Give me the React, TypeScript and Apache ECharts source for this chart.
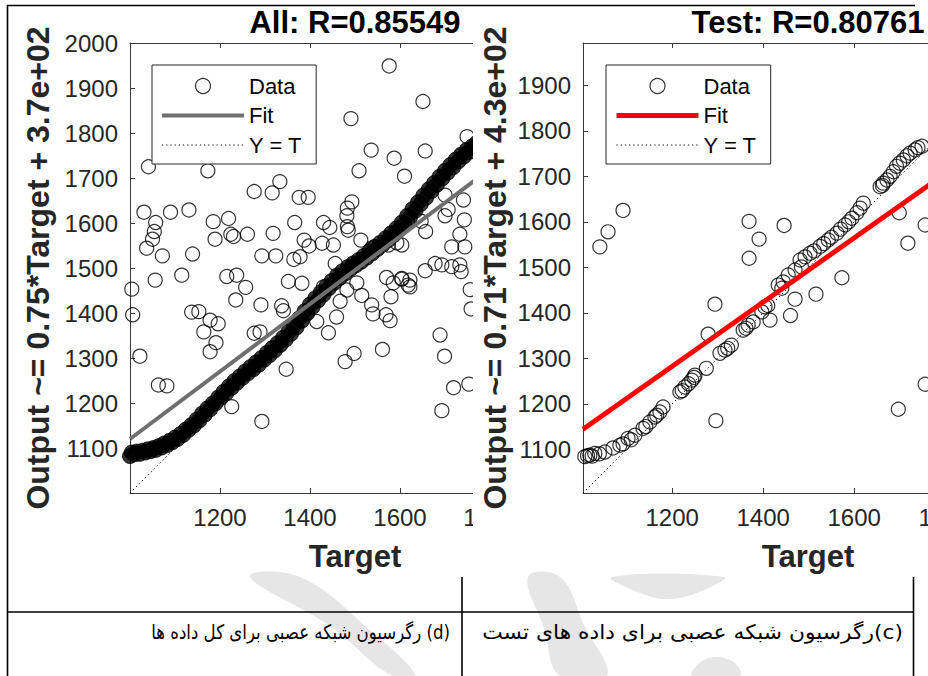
import React, { useEffect, useRef } from "react";
import * as echarts from "echarts";

const FONT = '"Liberation Sans", Arial, Helvetica, sans-serif';
const AXIS_COLOR = "#3a3a3a";
const TEXT_COLOR = "#262626";

// ---------- texts ----------
const allTitle = "All: R=0.85549";
const testTitle = "Test: R=0.80761";
const allYLabel = "Output ~= 0.75*Target + 3.7e+02";
const testYLabel = "Output ~= 0.71*Target + 4.3e+02";
const xLabel = "Target";
const legendNames = ["Data", "Fit", "Y = T"];
// captions (logical order arranged so "(d)" / "(c)" sit at the right end)
const captionAll = "رگرسیون شبکه عصبی برای کل داده ها (d)";
const captionTest = "رگرسیون شبکه عصبی برای داده های تست(c)";

// ---------- axes ----------
const allRange = [1000, 2000];
const testRange = [1004, 1993];
const allXTicks = [1200, 1400, 1600, 1800];
const allYTicks = [1100, 1200, 1300, 1400, 1500, 1600, 1700, 1800, 1900, 2000];
const testXTicks = [1200, 1400, 1600, 1800];
const testYTicks = [1100, 1200, 1300, 1400, 1500, 1600, 1700, 1800, 1900];

// ---------- fit lines (end points) ----------
const allFit = [[1000, 1120], [2000, 1870]];
const testFit = [[1004, 1144], [1993, 1842]];
const allIdentity = [[1000, 1000], [2000, 2000]];
const testIdentity = [[1004, 1004], [1993, 1993]];

// ---------- All: scattered data ----------
const allScatter = [
  [1576, 1949], [1651, 1870], [1491, 1832], [1749, 1792], [1041, 1725], [1173, 1716], [1536, 1762],
  [1587, 1744], [1656, 1760], [1509, 1716], [1610, 1704], [1276, 1670], [1316, 1667], [1333, 1692],
  [1376, 1657], [1396, 1657], [1031, 1624], [1090, 1624], [1131, 1629], [1057, 1601], [1054, 1581],
  [1050, 1564], [1037, 1544], [1072, 1527], [1139, 1531], [1185, 1603], [1219, 1610], [1189, 1564],
  [1224, 1575], [1230, 1570], [1261, 1575], [1318, 1577], [1366, 1601], [1387, 1562], [1398, 1549],
  [1293, 1527], [1324, 1527], [1364, 1519], [1378, 1525], [1430, 1601], [1444, 1590], [1427, 1555],
  [1452, 1551], [1483, 1633], [1482, 1616], [1493, 1647], [1483, 1592], [1485, 1584], [1513, 1562],
  [1537, 1544], [1574, 1551], [1593, 1556], [1604, 1551], [1647, 1604], [1657, 1581], [1700, 1662],
  [1707, 1630], [1700, 1616], [1741, 1651], [1743, 1607], [1733, 1575], [1715, 1547], [1744, 1547],
  [1678, 1510], [1693, 1507], [1715, 1503], [1733, 1507], [1736, 1492], [1656, 1494], [1570, 1479],
  [1585, 1467], [1604, 1475], [1618, 1462], [1504, 1467], [1482, 1451], [1004, 1453], [1056, 1473],
  [1115, 1484], [1215, 1481], [1237, 1484], [1257, 1457], [1352, 1470], [1382, 1466], [1456, 1510],
  [1006, 1396], [1022, 1304], [1063, 1240], [1082, 1238], [1137, 1402], [1153, 1403], [1178, 1384],
  [1196, 1376], [1164, 1358], [1191, 1334], [1178, 1314], [1235, 1429], [1291, 1418], [1337, 1416],
  [1341, 1405], [1276, 1355], [1289, 1358], [1347, 1275], [1226, 1192], [1293, 1159], [1441, 1356],
  [1459, 1391], [1467, 1426], [1415, 1381], [1478, 1292], [1498, 1310], [1561, 1319], [1515, 1439],
  [1537, 1418], [1540, 1398], [1569, 1396], [1578, 1383], [1580, 1436], [1689, 1351], [1699, 1304],
  [1719, 1234], [1753, 1242], [1693, 1183], [1756, 1452], [1758, 1409], [1604, 1477], [1622, 1473],
  [1622, 1458], [1430, 1458],
];

// ---------- All: dense band of overlapping points ----------
const allBand = [
  [1000, 1082], [1004, 1090], [1010, 1086], [1016, 1092], [1022, 1087], [1028, 1094], [1034, 1090],
  [1040, 1097], [1046, 1093], [1052, 1100], [1058, 1096], [1064, 1104], [1070, 1101], [1076, 1110],
  [1082, 1106], [1088, 1116], [1094, 1113], [1100, 1123], [1106, 1120], [1112, 1131], [1118, 1129],
  [1124, 1141], [1130, 1140], [1136, 1151], [1142, 1150], [1148, 1163], [1154, 1161], [1160, 1176],
  [1166, 1174], [1172, 1188], [1178, 1186], [1184, 1199], [1190, 1199], [1196, 1212], [1202, 1211],
  [1208, 1225], [1214, 1222], [1220, 1237], [1226, 1234], [1232, 1249], [1238, 1245], [1244, 1259],
  [1250, 1256], [1256, 1270], [1262, 1266], [1268, 1280], [1274, 1275], [1280, 1290], [1286, 1285],
  [1292, 1300], [1298, 1296], [1304, 1311], [1310, 1306], [1316, 1322], [1322, 1317], [1328, 1333],
  [1334, 1329], [1340, 1345], [1346, 1341], [1352, 1358], [1358, 1354], [1364, 1372], [1370, 1368],
  [1376, 1388], [1382, 1383], [1388, 1404], [1394, 1399], [1400, 1419], [1406, 1414], [1412, 1433],
  [1418, 1428], [1424, 1446], [1430, 1441], [1436, 1459], [1442, 1455], [1448, 1471], [1454, 1467],
  [1460, 1483], [1466, 1478], [1472, 1493], [1478, 1488], [1484, 1502], [1490, 1498], [1496, 1510],
  [1502, 1506], [1508, 1518], [1514, 1514], [1520, 1527], [1526, 1523], [1532, 1537], [1538, 1532],
  [1544, 1547], [1550, 1542], [1556, 1556], [1562, 1552], [1568, 1566], [1574, 1562], [1580, 1577],
  [1586, 1573], [1592, 1588], [1598, 1585], [1604, 1601], [1610, 1598], [1616, 1616], [1622, 1612],
  [1628, 1631], [1634, 1627], [1640, 1646], [1646, 1642], [1652, 1661], [1658, 1656], [1664, 1675],
  [1670, 1671], [1676, 1689], [1682, 1685], [1688, 1703], [1694, 1699], [1700, 1716], [1706, 1712],
  [1712, 1729], [1718, 1724], [1724, 1741], [1730, 1737], [1736, 1752], [1742, 1748], [1748, 1762],
  [1754, 1758], [1760, 1770], [1766, 1767], [1770, 1778],
];

// ---------- Test data ----------
const testScatter = [
  [1041, 1545], [1059, 1578], [1092, 1625], [1369, 1601], [1391, 1562], [1446, 1592], [1369, 1520],
  [1699, 1620], [1718, 1553], [1756, 1593], [1294, 1419], [1279, 1353], [1296, 1163], [1697, 1188],
  [1756, 1243], [1573, 1477], [1516, 1441], [1470, 1430], [1460, 1394], [1415, 1384],
  [1008, 1084], [1014, 1086], [1019, 1087], [1024, 1085], [1030, 1091], [1040, 1090], [1052, 1094],
  [1070, 1103], [1085, 1109], [1092, 1112], [1103, 1124], [1110, 1121], [1118, 1131], [1136, 1146],
  [1142, 1150], [1151, 1160], [1162, 1171], [1166, 1175], [1173, 1182], [1180, 1193], [1217, 1226],
  [1222, 1229], [1228, 1237], [1236, 1244], [1243, 1252], [1250, 1263], [1248, 1258], [1275, 1278],
  [1305, 1311], [1316, 1318], [1322, 1322], [1330, 1329], [1356, 1362], [1362, 1366], [1367, 1373],
  [1378, 1380], [1397, 1402], [1404, 1413], [1410, 1416], [1433, 1461], [1441, 1454], [1444, 1468],
  [1455, 1483], [1470, 1494], [1484, 1501], [1481, 1516], [1492, 1523], [1503, 1531], [1512, 1536],
  [1525, 1546], [1533, 1552], [1543, 1560], [1550, 1566], [1562, 1575], [1570, 1584], [1580, 1593],
  [1588, 1600], [1595, 1608], [1606, 1620], [1613, 1630], [1620, 1641], [1657, 1677], [1662, 1680],
  [1664, 1685], [1672, 1692], [1679, 1700], [1686, 1710], [1693, 1722], [1700, 1729], [1708, 1736],
  [1716, 1745], [1723, 1751], [1734, 1758], [1740, 1763], [1749, 1766],
];

const plain = (v: number) => String(v);
const hiddenSymbol = { color: "rgba(0,0,0,0)", borderColor: "rgba(0,0,0,0)", borderWidth: 0, opacity: 0 };

function axisCommon() {
  return {
    type: "value",
    axisLine: { show: true, onZero: false, lineStyle: { color: AXIS_COLOR, width: 1 } },
    splitLine: { show: false },
  };
}

function panelOption(p: any) {
  const [min, max] = p.range;
  const series: any[] = [
    {
      name: legendNames[2], type: "line", data: p.identity, symbol: "none", silent: true,
      itemStyle: { color: "#000" },
      lineStyle: { color: "#000", width: 1, type: [1.2, 3] },
    },
    {
      name: legendNames[1], type: "line", data: p.fit, symbol: "none", silent: true,
      itemStyle: { color: p.fitColor },
      lineStyle: { color: p.fitColor, width: p.fitWidth },
    },
    {
      name: legendNames[0], type: "scatter", data: p.scatter, symbol: "circle", symbolSize: 14, silent: true,
      itemStyle: { color: "rgba(0,0,0,0)", borderColor: "#000", borderWidth: 1.2 },
    },
  ];
  if (p.band) {
    series.push({
      name: legendNames[0], type: "scatter", data: p.band, symbol: "circle", symbolSize: 15, silent: true,
      itemStyle: { color: "#000", borderColor: "#000", borderWidth: 1 },
    });
  }
  return {
    animation: false,
    graphic: [
      {
        type: "text", x: p.titleX, y: 22, z: 10,
        style: {
          text: p.title, fill: "#000", font: `bold 31px ${FONT}`, lineHeight: 26,
          textAlign: "center", textVerticalAlign: "middle", align: "center", verticalAlign: "middle",
        },
      },
    ],
    grid: { left: p.left, top: 43, width: 450, height: 450 },
    xAxis: [
      {
        ...axisCommon(), min, max, position: "bottom",
        name: xLabel, nameLocation: "middle", nameGap: 48,
        nameTextStyle: { fontFamily: FONT, fontWeight: "bold", fontSize: 31, lineHeight: 31, color: TEXT_COLOR },
        axisTick: { show: true, inside: true, length: 5, customValues: p.xTicks, lineStyle: { color: AXIS_COLOR } },
        axisLabel: { customValues: p.xTicks, formatter: plain, fontFamily: FONT, fontSize: 24, color: TEXT_COLOR, margin: 12 },
      },
      {
        ...axisCommon(), min, max, position: "top",
        axisTick: { show: true, inside: true, length: 5, customValues: p.xTicks, lineStyle: { color: AXIS_COLOR } },
        axisLabel: { show: false },
      },
    ],
    yAxis: [
      {
        ...axisCommon(), min, max, position: "left",
        name: p.yLabel, nameLocation: "middle", nameGap: 72,
        nameTextStyle: { fontFamily: FONT, fontWeight: "bold", fontSize: 32, lineHeight: 32, color: TEXT_COLOR },
        axisTick: { show: true, inside: true, length: 5, customValues: p.yTicks, lineStyle: { color: AXIS_COLOR } },
        axisLabel: { customValues: p.yTicks, formatter: plain, fontFamily: FONT, fontSize: 24, color: TEXT_COLOR, margin: 12 },
      },
    ],
    legend: {
      orient: "vertical", left: p.legendLeft, top: 65,
      padding: [10, 14, 8, 8], itemGap: 7.5, itemWidth: 82, itemHeight: 15,
      backgroundColor: "#fff", borderColor: "#262626", borderWidth: 1, borderRadius: 0,
      selectedMode: false,
      textStyle: { fontFamily: FONT, fontSize: 22, lineHeight: 22, color: "#000" },
      data: [
        { name: legendNames[0], icon: "circle", itemStyle: { color: "rgba(0,0,0,0)", borderColor: "#000", borderWidth: 1.2 } },
        { name: legendNames[1], itemStyle: hiddenSymbol, lineStyle: { width: p.fitWidth, color: p.fitColor } },
        { name: legendNames[2], itemStyle: hiddenSymbol, lineStyle: { width: 1, color: "#000", type: [1.2, 3] } },
      ],
    },
    series,
  };
}

function baseOption() {
  const line = (x1: number, y1: number, x2: number, y2: number, w = 1.6) => ({
    type: "line", shape: { x1, y1, x2, y2 }, style: { stroke: "#000", lineWidth: w },
  });
  const wm = (points: number[][]) => ({
    type: "polygon", shape: { points, smooth: 0.4 }, style: { fill: "#e6e6e6" },
  });
  const caption = (text: string, x: number, scaleX: number) => ({
    type: "text", x, y: 632, scaleX, originX: 0, originY: 0,
    style: {
      text, fill: "#000", font: '20px "DejaVu Sans", sans-serif',
      textAlign: "right", textVerticalAlign: "middle", align: "right", verticalAlign: "middle",
    },
  });
  return {
    animation: false,
    graphic: [
      wm([[250, 577], [300, 577], [372, 632], [416, 676], [392, 676], [330, 626]]),
      wm([[528, 577], [560, 577], [584, 625], [607, 676], [560, 676], [544, 628]]),
      wm([[612, 577], [724, 577], [704, 590], [670, 599], [640, 593]]),
      wm([[692, 676], [740, 676], [732, 661], [706, 659]]),
      line(7, 5.5, 915, 5.5),
      line(7.5, 5, 7.5, 676),
      line(7, 612, 914, 612),
      line(462, 577, 462, 676),
      line(913.5, 577, 913.5, 676),
      caption(captionAll, 450, 0.83),
      caption(captionTest, 903, 1.09),
    ],
  };
}

export default function App() {
  const baseRef = useRef<HTMLDivElement>(null);
  const leftRef = useRef<HTMLDivElement>(null);
  const rightRef = useRef<HTMLDivElement>(null);

  useEffect(() => {
    document.body.style.margin = "0";
    const charts: echarts.ECharts[] = [];
    const base = echarts.init(baseRef.current!, null, { renderer: "svg" });
    base.setOption(baseOption() as any);
    charts.push(base);

    const left = echarts.init(leftRef.current!, null, { renderer: "svg" });
    left.setOption(
      panelOption({
        range: allRange, left: 130, title: allTitle, titleX: 355, yLabel: allYLabel,
        xTicks: allXTicks, yTicks: allYTicks, fit: allFit, identity: allIdentity,
        scatter: allScatter, band: allBand, fitColor: "#6f6f6f", fitWidth: 4, legendLeft: 152,
      }) as any
    );
    charts.push(left);

    const right = echarts.init(rightRef.current!, null, { renderer: "svg" });
    right.setOption(
      panelOption({
        range: testRange, left: 583, title: testTitle, titleX: 808, yLabel: testYLabel,
        xTicks: testXTicks, yTicks: testYTicks, fit: testFit, identity: testIdentity,
        scatter: testScatter, band: null, fitColor: "#ff0000", fitWidth: 5, legendLeft: 606,
      }) as any
    );
    charts.push(right);

    return () => charts.forEach((c) => c.dispose());
  }, []);

  return (
    <div style={{ position: "relative", width: 928, height: 676, overflow: "hidden", background: "#fff" }}>
      <div ref={baseRef} style={{ position: "absolute", left: 0, top: 0, width: 928, height: 676 }} />
      <div style={{ position: "absolute", left: 9, top: 0, width: 464, height: 577, overflow: "hidden" }}>
        <div ref={leftRef} style={{ position: "absolute", left: -9, top: 0, width: 600, height: 577 }} />
      </div>
      <div style={{ position: "absolute", left: 473, top: 0, width: 455, height: 577, overflow: "hidden" }}>
        <div ref={rightRef} style={{ position: "absolute", left: -473, top: 0, width: 1040, height: 577 }} />
      </div>
    </div>
  );
}
